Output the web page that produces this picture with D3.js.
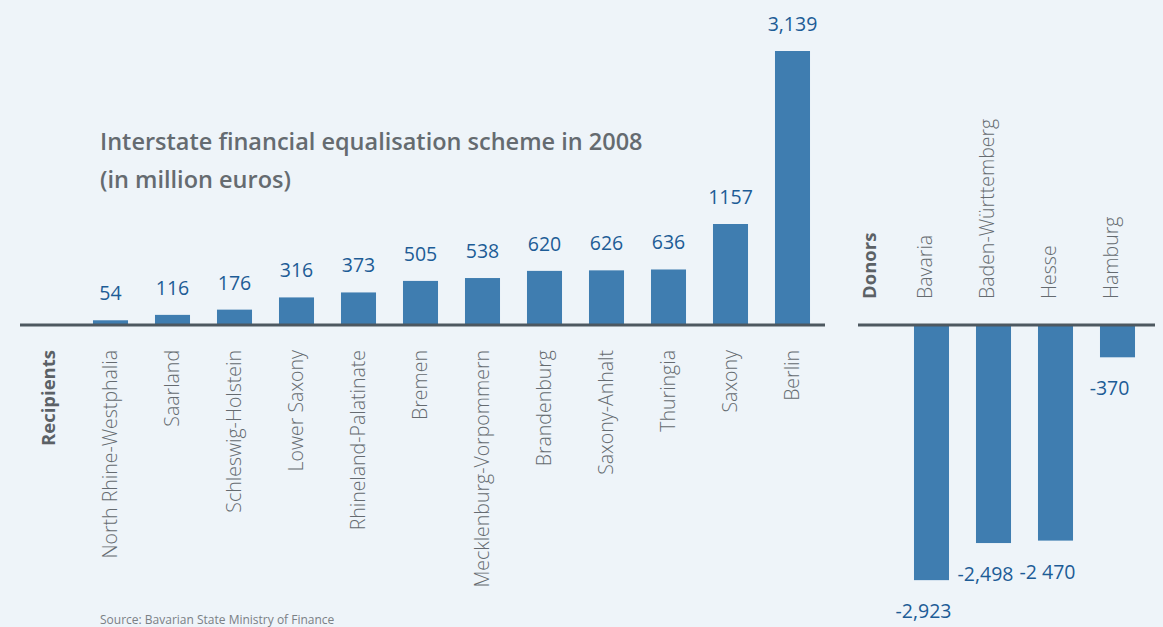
<!DOCTYPE html>
<html>
<head>
<meta charset="utf-8">
<script src="https://cdn.jsdelivr.net/npm/d3@7"></script>
<style>
  body { margin: 0; background: #eef4f9; }
  svg { display: block; font-family: "Open Sans", sans-serif; }
</style>
</head>
<body>
<div id="chart"></div>
<script>
// recipients and donors, in million euros
const recipients = ["North Rhine-Westphalia", "Saarland", "Schleswig-Holstein", "Lower Saxony",
    "Rhineland-Palatinate", "Bremen", "Mecklenburg-Vorpommern", "Brandenburg",
    "Saxony-Anhalt", "Thuringia", "Saxony", "Berlin"];
const recipientValues = [54, 116, 176, 316, 373, 505, 538, 620, 626, 636, 1157, 3139];
const recipientLabels = ["54", "116", "176", "316", "373", "505", "538", "620", "626", "636", "1157", "3,139"];

const donors = ["Bavaria", "Baden-Württemberg", "Hesse", "Hamburg"];
const donorValues = [-2923, -2498, -2470, -370];
const donorLabels = ["-2,923", "-2,498", "-2 470", "-370"];

const width = 1163;
const height = 627;
const baseline = 325;

const svg = d3.select("#chart")
    .append("svg")
    .attr("width", width)
    .attr("height", height);

svg.append("rect")
    .attr("width", width)
    .attr("height", height)
    .attr("fill", "#eef4f9");

// one y scale shared by both panels
const yScale = d3.scaleLinear()
    .domain([-3139, 3139])
    .range([baseline + 274, baseline - 274]);

// left panel: first slot holds the "Recipients" heading
const xLeft = d3.scaleBand()
    .domain(["Recipients"].concat(recipients))
    .range([17.5, 823.5])
    .paddingInner(0.435)
    .paddingOuter(0.2175);

// right panel: first slot holds the "Donors" heading
const xRight = d3.scaleBand()
    .domain(["Donors"].concat(donors))
    .range([838.5, 1148.5])
    .paddingInner(0.435)
    .paddingOuter(0.2175);

const recData = recipients.map((name, i) => ({name, value: recipientValues[i], label: recipientLabels[i]}));
const donData = donors.map((name, i) => ({name, value: donorValues[i], label: donorLabels[i]}));

const barColor = "#3f7db0";
const valueColor = "#1d5c96";
const textGrey = "#656b70";

// bars
svg.selectAll(".rec-bar")
    .data(recData)
    .enter()
    .append("rect")
    .attr("class", "rec-bar")
    .attr("x", d => xLeft(d.name))
    .attr("y", d => yScale(d.value))
    .attr("width", xLeft.bandwidth())
    .attr("height", d => yScale(0) - yScale(d.value))
    .attr("fill", barColor);

svg.selectAll(".don-bar")
    .data(donData)
    .enter()
    .append("rect")
    .attr("class", "don-bar")
    .attr("x", d => xRight(d.name))
    .attr("y", yScale(0))
    .attr("width", xRight.bandwidth())
    .attr("height", d => yScale(d.value) - yScale(0))
    .attr("fill", barColor);

// value labels
svg.selectAll(".rec-val")
    .data(recData)
    .enter()
    .append("text")
    .attr("class", "rec-val")
    .attr("x", d => xLeft(d.name) + xLeft.bandwidth() / 2)
    .attr("y", d => yScale(d.value) - 20)
    .attr("text-anchor", "middle")
    .attr("font-size", 19.5)
    .attr("fill", valueColor)
    .text(d => d.label);

svg.selectAll(".don-val")
    .data(donData)
    .enter()
    .append("text")
    .attr("class", "don-val")
    .attr("x", d => xRight(d.name) + xRight.bandwidth() / 2 - 8)
    .attr("y", d => yScale(d.value) + 38)
    .attr("text-anchor", "middle")
    .attr("font-size", 19.5)
    .attr("fill", valueColor)
    .text(d => d.label);

// category labels, rotated
svg.selectAll(".rec-name")
    .data(recData)
    .enter()
    .append("text")
    .attr("class", "rec-name")
    .attr("transform", d => `translate(${xLeft(d.name) + xLeft.bandwidth() / 2 + 6},350) rotate(-90)`)
    .attr("text-anchor", "end")
    .attr("font-size", 19.5)
    .attr("font-weight", 300)
    .attr("fill", textGrey)
    .text(d => d.name);

svg.selectAll(".don-name")
    .data(donData)
    .enter()
    .append("text")
    .attr("class", "don-name")
    .attr("transform", d => `translate(${xRight(d.name) + xRight.bandwidth() / 2},299) rotate(-90)`)
    .attr("text-anchor", "start")
    .attr("font-size", 19.5)
    .attr("font-weight", 300)
    .attr("fill", textGrey)
    .text(d => d.name);

// panel headings
svg.append("text")
    .attr("transform", `translate(${xLeft("Recipients") + xLeft.bandwidth() / 2 + 6},350) rotate(-90)`)
    .attr("text-anchor", "end")
    .attr("font-size", 18.5)
    .attr("font-weight", 700)
    .attr("fill", "#5b6166")
    .text("Recipients");

svg.append("text")
    .attr("transform", `translate(${xRight("Donors") + xRight.bandwidth() / 2 + 6},299) rotate(-90)`)
    .attr("text-anchor", "start")
    .attr("font-size", 18.5)
    .attr("font-weight", 700)
    .attr("fill", "#5b6166")
    .text("Donors");

// baselines
svg.append("line")
    .attr("x1", 20).attr("x2", 825)
    .attr("y1", yScale(0)).attr("y2", yScale(0))
    .attr("stroke", "#4d5860")
    .attr("stroke-width", 3);

svg.append("line")
    .attr("x1", 858).attr("x2", 1155)
    .attr("y1", yScale(0)).attr("y2", yScale(0))
    .attr("stroke", "#4d5860")
    .attr("stroke-width", 3);

// title
svg.append("text")
    .attr("x", 100)
    .attr("y", 150)
    .attr("font-size", 23.5)
    .attr("font-weight", 600)
    .attr("fill", "#656b70")
    .text("Interstate financial equalisation scheme in 2008");

svg.append("text")
    .attr("x", 100)
    .attr("y", 188)
    .attr("font-size", 23.5)
    .attr("font-weight", 600)
    .attr("fill", "#656b70")
    .text("(in million euros)");

// source
svg.append("text")
    .attr("x", 100)
    .attr("y", 624)
    .attr("font-size", 12)
    .attr("fill", "#7a8085")
    .text("Source: Bavarian State Ministry of Finance");
</script>
</body>
</html>
